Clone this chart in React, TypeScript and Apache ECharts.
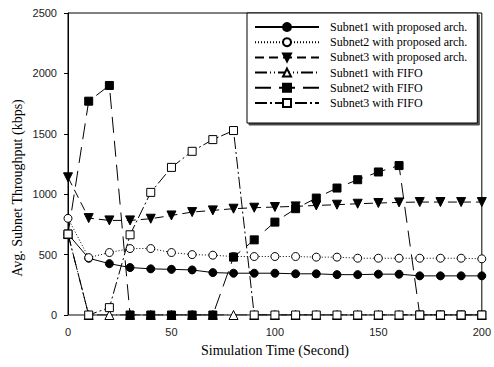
import React, { useEffect, useRef } from "react";
import * as echarts from "echarts";

const times = [0, 10, 20, 30, 40, 50, 60, 70, 80, 90, 100, 110, 120, 130, 140, 150, 160, 170, 180, 190, 200];
const subnet1Proposed = [670, 470, 425, 393, 382, 378, 373, 351, 346, 346, 346, 341, 341, 334, 334, 338, 338, 324, 324, 324, 324];
const subnet2Proposed = [800, 475, 517, 550, 550, 517, 500, 495, 484, 484, 484, 484, 479, 479, 470, 470, 470, 470, 470, 470, 465];
const subnet3Proposed = [1140, 802, 783, 783, 797, 824, 852, 866, 880, 888, 894, 899, 907, 913, 921, 927, 932, 935, 935, 935, 935];
const subnet1Fifo = [670, 0, 0, 0, 0, 0, 0, 0, 0, 0, 0, 0, 0, 0, 0, 0, 0, 0, 0, 0, 0];
const subnet2Fifo = [670, 1770, 1900, 0, 0, 0, 0, 0, 479, 622, 769, 880, 968, 1051, 1120, 1184, 1237, 0, 0, 0, 0];
const subnet3Fifo = [670, 0, 61, 664, 1015, 1222, 1355, 1452, 1527, 0, 0, 0, 0, 0, 0, 0, 0, 0, 0, 0, 0];

const xTicks = [0, 50, 100, 150, 200];
const yTicks = [0, 500, 1000, 1500, 2000, 2500];

const xTitle = "Simulation Time (Second)";
const yTitle = "Avg. Subnet Throughput (kbps)";

const seriesNames = [
  "Subnet1 with proposed arch.",
  "Subnet2 with proposed arch.",
  "Subnet3 with proposed arch.",
  "Subnet1 with FIFO",
  "Subnet2 with FIFO",
  "Subnet3 with FIFO",
];

const pair = (vals: number[]) => times.map((t, i) => [t, vals[i]]);

export default function App() {
  const ref = useRef<HTMLDivElement>(null);
  useEffect(() => {
    if (!ref.current) return;
    const chart = echarts.init(ref.current, null, { renderer: "svg" });
    const serif = "Liberation Serif, Times New Roman, serif";
    const sans = "Liberation Sans, Arial, sans-serif";
    const mk = (
      name: string,
      vals: number[],
      symbol: string,
      filled: boolean,
      dash: any,
      size: number,
      rotate = 0
    ) => ({
      name,
      type: "line",
      data: pair(vals),
      symbol,
      symbolSize: size,
      symbolRotate: rotate,
      showAllSymbol: true,
      lineStyle: { color: "#000", width: 1, type: dash },
      itemStyle: { color: filled ? "#000" : "#fff", borderColor: "#000", borderWidth: 1 },
      emphasis: { disabled: true },
    });
    chart.setOption({
      animation: false,
      backgroundColor: "#fff",
      grid: {
        left: 68,
        right: 6,
        top: 13,
        bottom: 52,
        show: true,
        borderColor: "#000",
        borderWidth: 1,
        backgroundColor: "transparent",
      },
      graphic: [
        {
          type: "text",
          x: 17,
          y: 188,
          rotation: Math.PI / 2,
          style: {
            text: yTitle,
            font: "14px Liberation Serif, Times New Roman, serif",
            fill: "#000",
            align: "center",
            verticalAlign: "middle",
          },
        },
      ],
      legend: {
        orient: "vertical",
        left: 247,
        top: 13,
        data: seriesNames,
        itemWidth: 64,
        itemHeight: 10,
        itemGap: 3.2,
        padding: [8, 10, 14, 7],
        backgroundColor: "#fff",
        borderColor: "#000",
        borderWidth: 1,
        borderRadius: 0,
        shadowColor: "rgba(0,0,0,0.7)",
        shadowOffsetX: 2,
        shadowOffsetY: 2,
        shadowBlur: 0,
        textStyle: {
          fontFamily: serif,
          fontSize: 12,
          color: "#000",
          padding: [0, 0, 0, 6],
        },
      },
      xAxis: {
        type: "value",
        min: 0,
        max: 200,
        interval: 50,
        name: xTitle,
        nameLocation: "middle",
        nameGap: 28,
        nameTextStyle: { fontFamily: serif, fontSize: 14, color: "#000" },
        axisLine: { show: true, onZero: false, lineStyle: { color: "#888", width: 1 } },
        axisTick: { show: false },
        splitLine: { show: false },
        axisLabel: {
          fontFamily: sans,
          fontSize: 11,
          color: "#222",
          margin: 11,
          formatter: (v: number) => (xTicks.includes(v) ? String(v) : ""),
        },
      },
      yAxis: {
        type: "value",
        min: 0,
        max: 2500,
        interval: 500,
        axisLine: { show: true, lineStyle: { color: "#000", width: 1 } },
        axisTick: { show: true, inside: false, length: 4, lineStyle: { color: "#000" } },
        splitLine: { show: false },
        axisLabel: {
          fontFamily: sans,
          fontSize: 11,
          color: "#222",
          margin: 11,
          formatter: (v: number) => (yTicks.includes(v) ? String(v) : ""),
        },
      },
      series: [
        mk(seriesNames[0], subnet1Proposed, "circle", true, "solid", 8),
        mk(seriesNames[1], subnet2Proposed, "circle", false, [1, 2], 8),
        mk(seriesNames[2], subnet3Proposed, "triangle", true, [9, 5], 9, 180),
        mk(seriesNames[3], subnet1Fifo, "triangle", false, [12, 3, 1, 3, 1, 3], 9),
        mk(seriesNames[4], subnet2Fifo, "rect", true, [16, 8], 8),
        mk(seriesNames[5], subnet3Fifo, "rect", false, [12, 3, 2, 3], 8),
      ],
    });
    return () => chart.dispose();
  }, []);
  return (
    <div
      ref={ref}
      style={{ position: "fixed", left: 0, top: 0, width: 494, height: 367, background: "#fff" }}
    />
  );
}
